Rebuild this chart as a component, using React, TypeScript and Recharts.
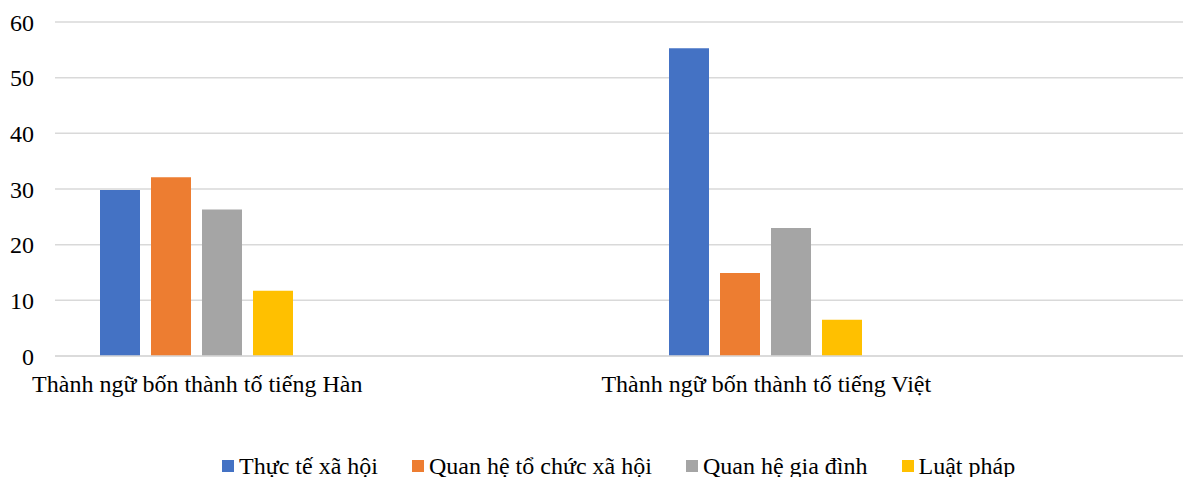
import React from 'react';
import { BarChart, Bar, XAxis, YAxis, CartesianGrid, Legend } from 'recharts';

// two real groups; the empty slots keep the Excel-style spacing
const categories = ['Thành ngữ bốn thành tố tiếng Hàn', ' ', 'Thành ngữ bốn thành tố tiếng Việt', '  '];
const thucTe = [29.8, null, 55.3, null];
const toChuc = [32.1, null, 14.9, null];
const giaDinh = [26.3, null, 23.0, null];
const luatPhap = [11.7, null, 6.5, null];
const yTicks = [0, 10, 20, 30, 40, 50, 60];

const series = [
  { key: 'thucTe', name: 'Thực tế xã hội', color: '#4472C4' },
  { key: 'toChuc', name: 'Quan hệ tổ chức xã hội', color: '#ED7D31' },
  { key: 'giaDinh', name: 'Quan hệ gia đình', color: '#A5A5A5' },
  { key: 'luatPhap', name: 'Luật pháp', color: '#FFC000' },
];

const data = categories.map((name, i) => ({
  name,
  thucTe: thucTe[i],
  toChuc: toChuc[i],
  giaDinh: giaDinh[i],
  luatPhap: luatPhap[i],
}));

const FONT = '"Liberation Serif", "Times New Roman", serif';

function LegendBox() {
  return (
    <div
      style={{
        height: 41,
        boxSizing: 'border-box',
        paddingTop: 18,
        paddingLeft: 222,
        display: 'flex',
        fontFamily: FONT,
        fontSize: 24,
        lineHeight: '22px',
        color: '#000',
      }}
    >
      {series.map((s) => (
        <div key={s.key} style={{ display: 'flex', alignItems: 'center', marginRight: 34 }}>
          <span style={{ width: 12, height: 12, background: s.color, marginRight: 5, display: 'inline-block' }} />
          <span style={{ whiteSpace: 'nowrap' }}>{s.name}</span>
        </div>
      ))}
    </div>
  );
}

export default function App() {
  return (
    <div style={{ position: 'absolute', left: 0, top: 0, width: 1183, height: 477, overflow: 'hidden', background: '#fff' }}>
      <BarChart
        width={1193}
        height={477}
        data={data}
        margin={{ top: 22, right: 0, left: 0, bottom: 0 }}
        barCategoryGap={45}
        barGap={11}
      >
        <CartesianGrid vertical={false} stroke="#d9d9d9" strokeWidth={1.5} />
        <XAxis
          dataKey="name"
          interval={0}
          height={80}
          tickLine={false}
          tickSize={0}
          tickMargin={19}
          axisLine={{ stroke: '#d9d9d9', strokeWidth: 1.5 }}
          tick={{ fill: '#000', fontSize: 24, fontFamily: FONT }}
        />
        <YAxis
          width={55}
          domain={[0, 60]}
          ticks={yTicks}
          axisLine={false}
          tickLine={false}
          tickSize={0}
          tickMargin={21}
          tick={{ fill: '#000', fontSize: 24, fontFamily: FONT }}
        />
        <Legend
          verticalAlign="bottom"
          content={<LegendBox />}
          wrapperStyle={{ left: 0, width: 1183, bottom: 0 }}
        />
        {series.map((s) => (
          <Bar key={s.key} dataKey={s.key} name={s.name} fill={s.color} isAnimationActive={false} />
        ))}
      </BarChart>
    </div>
  );
}
